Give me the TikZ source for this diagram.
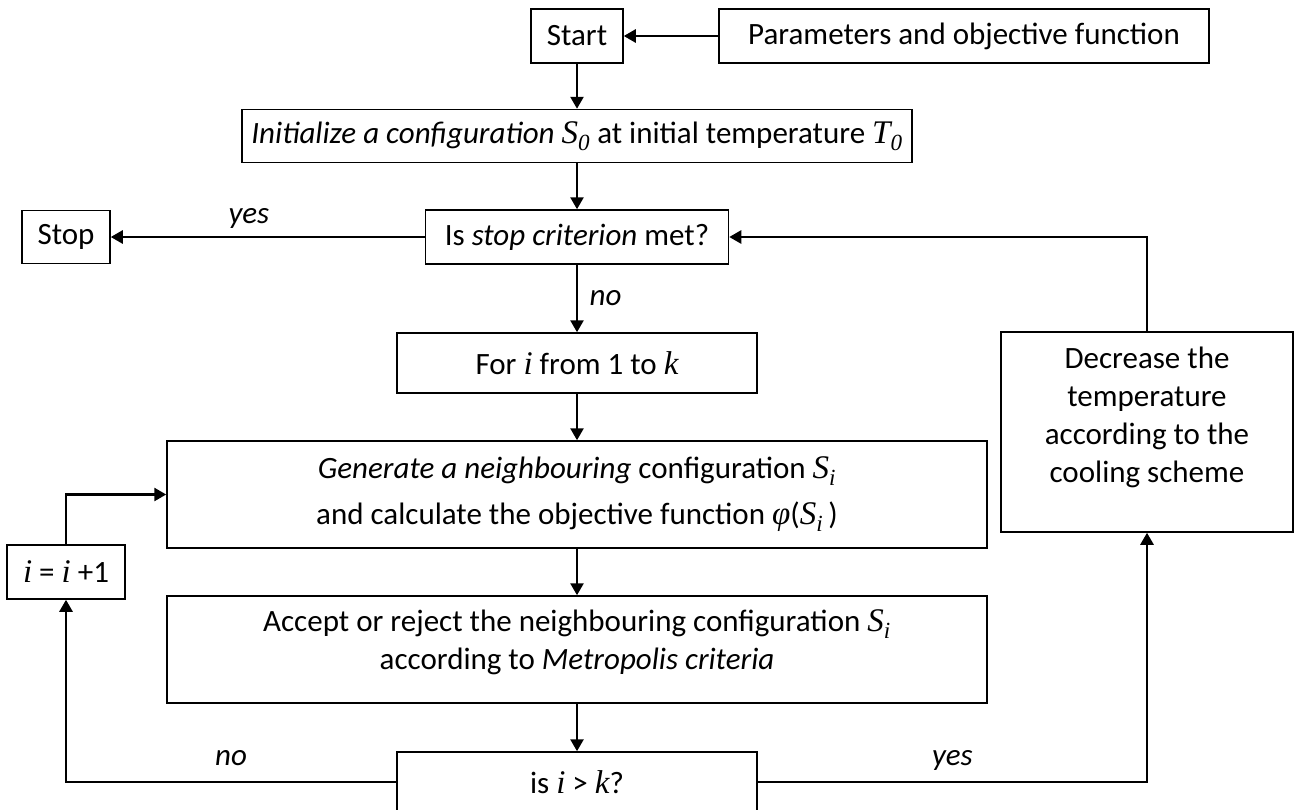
\documentclass[tikz,border=0pt]{standalone}
\usepackage{fontspec}
\setmainfont{Carlito}
\newfontfamily\symfont{Liberation Serif}
\newcommand{\mvar}[1]{{\symfont\itshape\fontsize{33}{38}\selectfont #1}}
\newcommand{\msub}[2]{{\symfont\itshape\fontsize{33}{38}\selectfont #1\textsubscript{#2}}}
\usetikzlibrary{arrows.meta}

\begin{document}
\begin{tikzpicture}[x=1pt, y=-1pt, >={Triangle[length=12pt,width=13pt]},
        font=\fontsize{31}{38}\selectfont,
        box/.style={draw, line width=1.5pt, rectangle, align=center, inner sep=0pt},
        flow/.style={->, line width=2.6pt}]
        \useasboundingbox (0,0) rectangle (1301,809);
        \clip (0,0) rectangle (1301,809);

        % Start and input
        \node[box, minimum width=92pt, minimum height=54pt] (start) at (577,36) {Start};
        \node[box, minimum width=490pt, minimum height=54pt] (params) at (964,36) {Parameters and objective function};

        % Initial configuration
        \node[box, minimum width=670pt, minimum height=53pt] (init) at (577,136) {\textit{Initialize a configuration} \msub{S}{0} at initial temperature \msub{T}{0}};

        % Stop test
        \node[box, minimum width=303pt, minimum height=54pt] (crit) at (577,237) {Is \textit{stop criterion} met?};
        \node[box, minimum width=88pt, minimum height=53pt] (stop) at (66,237) {Stop};

        % Inner loop
        \node[box, minimum width=360pt, minimum height=60pt] (loop) at (577,363) {For \mvar{i} from 1 to \mvar{k}};
        \node[box, minimum width=820pt, minimum height=107pt] (gen) at (577,494.5) {\textit{Generate a neighbouring} configuration \msub{S}{i}\\[8pt]
            and calculate the objective function \mvar{φ}(\msub{S}{i}\,)};
        \node[box, minimum width=820pt, minimum height=107pt, text depth=20pt] (accept) at (577,649.5) {Accept or reject the neighbouring configuration \msub{S}{i}\\
            according to \textit{Metropolis criteria}};
        \node[box, minimum width=360pt, minimum height=60pt] (check) at (577,782) {is \mvar{i} > \mvar{k}?};
        \node[box, minimum width=118pt, minimum height=54pt] (incr) at (66,572) {\mvar{i} = \mvar{i} +1};

        % Cooling
        \node[box, minimum width=292pt, minimum height=200pt, text depth=34pt] (cool) at (1147,432) {Decrease the\\temperature\\according to the\\cooling scheme};

        % Connectors
        \draw[flow] (params) -- (start);
        \draw[flow] (start) -- (init);
        \draw[flow] (init) -- (crit);
        \draw[flow] (crit) -- node[pos=0.56, above=4pt] {\textit{yes}} (stop);
        \draw[flow] (crit) -- node[right=8pt] {\textit{no}} (loop);
        \draw[flow] (loop) -- (gen);
        \draw[flow] (gen) -- (accept);
        \draw[flow] (accept) -- (check);
        \draw[flow] (check.west) -| node[pos=0.25, above=12pt] {\textit{no}} (incr.south);
        \draw[flow] (incr.north) |- (gen.west);
        \draw[flow] (check.east) -| node[pos=0.25, above=7pt] {\textit{yes}} (cool.south);
        \draw[flow] (cool.north) |- (crit.east);
    \end{tikzpicture}
\end{document}
